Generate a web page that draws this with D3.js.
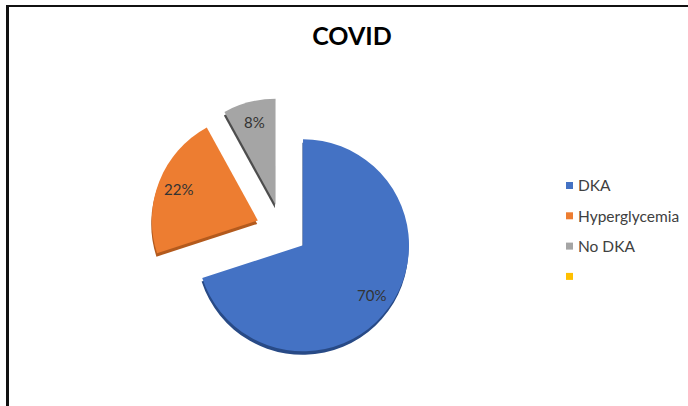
<!DOCTYPE html>
<html>
<head>
<meta charset="utf-8">
<script src="https://cdn.jsdelivr.net/npm/d3@7"></script>
<style>
  html, body { margin: 0; padding: 0; background: #fff; }
  svg { display: block; }
</style>
</head>
<body>
<svg id="chart" width="688" height="406"></svg>
<script>
// ── Data ──────────────────────────────────────────────
const categories = ['DKA', 'Hyperglycemia', 'No DKA', ''];
const values     = [70, 22, 8, 0];
const colors     = ['#4472C4', '#ED7D31', '#A5A5A5', '#FFC000'];
const shades     = ['#284a86', '#b35a1d', '#4d4d4d', '#b38600'];

const W = 688, H = 406;
const cx = 282, cy = 230, R = 106, explode = 26;

const svg = d3.select('#chart');

// frame (left + top rule)
svg.append('rect').attr('x', 6).attr('y', 5).attr('width', 3).attr('height', H - 5).attr('fill', '#111');
svg.append('rect').attr('x', 6).attr('y', 5).attr('width', W - 6).attr('height', 2).attr('fill', '#111');

// title
svg.append('text')
  .attr('x', 352).attr('y', 45)
  .attr('text-anchor', 'middle')
  .style('font-family', 'Lato, "Open Sans", sans-serif')
  .style('font-weight', 'bold')
  .style('font-size', '25px')
  .attr('fill', '#000')
  .text('COVID');

// ── Pie ──────────────────────────────────────────────
const rows = categories.map((c, i) => ({ name: c, value: values[i], color: colors[i], shade: shades[i] }));
const pie  = d3.pie().sort(null).value(d => d.value);
const arcs = pie(rows).filter(d => d.value > 0);

const arc      = d3.arc().innerRadius(0).outerRadius(R);
const labelArc = d3.arc().innerRadius(85).outerRadius(85);

function offset(d) {
  const a = (d.startAngle + d.endAngle) / 2;
  return [Math.sin(a) * explode, -Math.cos(a) * explode];
}

const g = svg.append('g').attr('transform', `translate(${cx},${cy})`);

const slice = g.selectAll('.slice')
  .data(arcs).join('g')
  .attr('class', 'slice')
  .attr('transform', d => { const o = offset(d); return `translate(${o[0]},${o[1]})`; });

// extruded edge
slice.append('path')
  .attr('d', arc)
  .attr('transform', 'translate(-0.6,3.5)')
  .attr('fill', d => d.data.shade);

slice.append('path')
  .attr('d', arc)
  .attr('fill', d => d.data.color);

slice.append('text')
  .attr('transform', d => `translate(${labelArc.centroid(d)})`)
  .attr('text-anchor', 'middle')
  .attr('dy', '0.36em')
  .style('font-family', 'Lato, "Open Sans", sans-serif')
  .style('font-size', '15px')
  .attr('fill', '#333')
  .text(d => Math.round(d.value) + '%');

// ── Legend ───────────────────────────────────────────
const legend = svg.append('g').attr('transform', 'translate(566,186)');
const item = legend.selectAll('.item')
  .data(rows).join('g')
  .attr('class', 'item')
  .attr('transform', (d, i) => `translate(0,${i * 30.3})`);

item.append('rect')
  .attr('x', 0).attr('y', -4)
  .attr('width', 7).attr('height', 7)
  .attr('fill', d => d.color);

item.append('text')
  .attr('x', 12).attr('y', 0)
  .attr('dy', '0.35em')
  .style('font-family', 'Lato, "Open Sans", sans-serif')
  .style('font-size', '15.5px')
  .attr('fill', '#404040')
  .text(d => d.name);
</script>
</body>
</html>
